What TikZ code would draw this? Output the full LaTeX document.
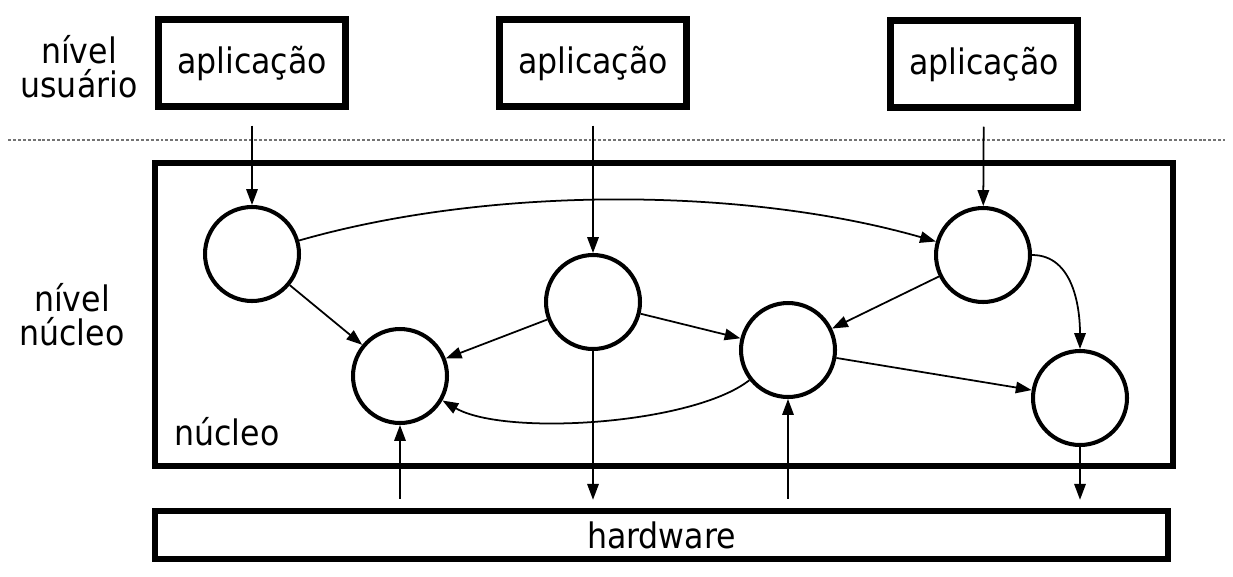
\documentclass[tikz,border=0pt]{standalone}
\usepackage{fontspec}
\setmainfont{DejaVu Sans Condensed}
\usepackage{tikz}
\usetikzlibrary{arrows.meta, positioning, calc}

\begin{document}
\begin{tikzpicture}[x=0.02cm,y=-0.02cm,>={Triangle[length=9pt,width=6.5pt]},
                    font=\fontsize{20}{17}\selectfont,
                    main node/.style={circle,draw,line width=2.3pt,minimum size=1.88cm,inner sep=0pt},
                    app node/.style={rectangle,draw,line width=3.7pt,minimum width=3.74cm,minimum height=1.74cm,inner sep=0pt},
                    level label/.style={align=center,inner sep=0pt,font=\fontsize{20}{19.5}\selectfont}]

  \useasboundingbox (0,0) rectangle (1233,576);

  % user level
  \node[app node] (a1) at (252,63) {aplicação};
  \node[app node] (a2) at (593,63) {aplicação};
  \node[app node] (a3) at (984,64) {aplicação};
  \node[level label] (user) at (79,67) {nível\\usuário};

  \coordinate (sepL) at (8,140);
  \coordinate (sepR) at (1225,140);
  \draw[gray!90!black,line width=0.9pt,dash pattern=on 1.7pt off 1.1pt] (sepL) -- (sepR);

  % kernel level
  \node[level label] (kern) at (72,315) {nível\\núcleo};
  \node[draw,line width=3.7pt,minimum width=20.36cm,minimum height=6.06cm] (kbox) at (664,314.5) {};
  \node[anchor=base,inner sep=0pt] (ktext) at (227,445) {núcleo};
  \node[draw,line width=3.7pt,minimum width=20.26cm,minimum height=0.96cm,inner sep=0pt] (hw) at (661.5,535) {hardware};

  \node[main node] (n1) at (252,254) {};
  \node[main node] (n2) [shift={(148,122)}] at (n1) {};
  \node[main node] (n3) [shift={(341,48)}] at (n1) {};
  \node[main node] (n4) [shift={(536,96)}] at (n1) {};
  \node[main node] (n5) [shift={(731,1)}] at (n1) {};
  \node[main node] (n6) [shift={(828,144)}] at (n1) {};

  \path[->,line width=1pt]
    (a1) edge[shorten <=0.32cm] (n1)
    (a2) edge[shorten <=0.32cm] (n3)
    (a3) edge[shorten <=0.32cm] (n5)
    (n1) edge[out=16,in=164,looseness=0.8] (n5)
         edge (n2)
    (n3) edge (n2)
         edge (n4)
         edge[shorten >=0.16cm] (n3 |- hw.north)
    (n5) edge (n4)
         edge[out=0,in=90] (n6)
    (n4) edge (n6)
         edge[out=218,in=-30,looseness=0.6] (n2)
    (n6) edge[shorten >=0.16cm] (n6 |- hw.north)
    (n2 |- hw.north) edge[shorten <=0.18cm] (n2)
    (n4 |- hw.north) edge[shorten <=0.18cm] (n4);

\end{tikzpicture}
\end{document}
